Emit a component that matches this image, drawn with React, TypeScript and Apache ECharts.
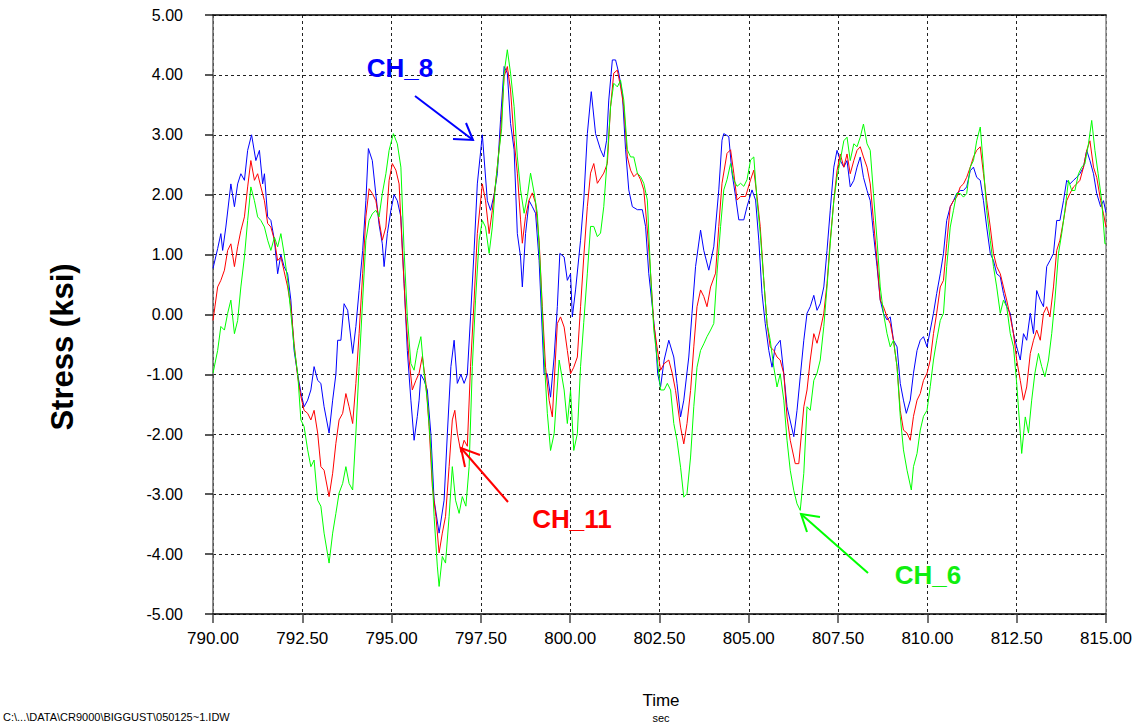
import React, { useEffect, useRef } from "react";
import * as echarts from "echarts";

// CH_8 (blue): [time s, stress ksi]
const ch8Data: [number, number][] = [
  [790.0, 0.77], [790.13, 1.1], [790.22, 1.35], [790.27, 1.07], [790.36, 1.46], [790.5, 2.18], [790.6, 1.8], [790.69, 2.18],
  [790.78, 2.35], [790.88, 2.24], [790.97, 2.74], [791.08, 3.0], [791.2, 2.57], [791.3, 2.74], [791.39, 2.18], [791.44, 2.35],
  [791.53, 1.63], [791.62, 1.57], [791.72, 1.24], [791.81, 0.68], [791.9, 1.0], [791.99, 0.8], [792.09, 0.68], [792.18, 0.24],
  [792.27, -0.6], [792.37, -1.0], [792.46, -1.3], [792.55, -1.54], [792.65, -1.43], [792.74, -1.26], [792.83, -0.87], [792.93, -1.1],
  [793.02, -1.15], [793.11, -1.54], [793.25, -1.98], [793.35, -1.43], [793.44, -1.0], [793.49, -0.43], [793.58, -0.43], [793.67, 0.18],
  [793.77, 0.07], [793.91, -0.65], [794.0, -0.2], [794.09, 0.4], [794.19, 1.07], [794.28, 1.9], [794.35, 2.77], [794.46, 2.57],
  [794.56, 2.0], [794.65, 1.5], [794.74, 1.18], [794.79, 0.8], [794.88, 1.35], [794.98, 1.74], [795.07, 2.0], [795.16, 1.9],
  [795.26, 1.63], [795.35, 0.52], [795.44, -0.6], [795.54, -1.43], [795.63, -2.1], [795.72, -1.7], [795.77, -1.43], [795.82, -1.0],
  [795.91, -1.1], [796.0, -1.26], [796.1, -2.0], [796.19, -3.1], [796.33, -3.65], [796.47, -3.1], [796.56, -2.0], [796.66, -0.87],
  [796.75, -0.43], [796.84, -1.15], [796.94, -1.0], [797.03, -1.15], [797.12, -1.0], [797.21, -0.04], [797.31, 1.07], [797.4, 2.18],
  [797.54, 3.0], [797.68, 1.9], [797.77, 1.74], [797.87, 2.0], [797.96, 2.35], [798.05, 3.25], [798.15, 4.14], [798.24, 4.03],
  [798.33, 3.19], [798.43, 2.75], [798.52, 1.35], [798.61, 0.96], [798.66, 0.46], [798.75, 1.35], [798.85, 1.9], [798.94, 1.8],
  [799.03, 1.69], [799.13, 0.9], [799.27, -0.99], [799.36, -0.99], [799.45, -1.38], [799.55, -0.71], [799.64, 0.13], [799.71, 1.02],
  [799.83, 0.96], [799.92, 0.57], [800.01, 0.68], [800.06, -0.04], [800.15, 0.41], [800.29, 1.24], [800.38, 1.91], [800.48, 3.02],
  [800.59, 3.72], [800.71, 3.02], [800.85, 2.75], [800.94, 2.63], [801.02, 2.91], [801.08, 3.58], [801.18, 4.25], [801.27, 4.25],
  [801.36, 4.03], [801.46, 3.69], [801.55, 2.75], [801.64, 2.08], [801.74, 1.8], [801.88, 1.75], [802.02, 1.75], [802.11, 1.47],
  [802.2, 0.68], [802.3, 0.13], [802.39, -0.43], [802.45, -0.99], [802.53, -1.21], [802.63, -0.76], [802.76, -0.43], [802.9, -0.71],
  [802.99, -1.15], [803.09, -1.71], [803.18, -1.43], [803.32, -0.71], [803.41, 0.02], [803.51, 0.8], [803.65, 1.41], [803.74, 1.07],
  [803.88, 0.74], [804.02, 1.13], [804.16, 2.08], [804.25, 2.91], [804.3, 3.02], [804.44, 2.97], [804.53, 2.36], [804.63, 1.97],
  [804.72, 1.58], [804.86, 1.58], [804.95, 1.8], [805.09, 2.08], [805.19, 1.91], [805.28, 1.24], [805.37, 0.35], [805.46, -0.15],
  [805.56, -0.6], [805.65, -0.88], [805.74, -0.54], [805.88, -0.43], [805.98, -0.99], [806.07, -1.54], [806.26, -2.04], [806.35, -1.6],
  [806.44, -1.04], [806.54, -0.43], [806.63, 0.02], [806.72, 0.13], [806.82, 0.32], [806.91, 0.07], [807.0, 0.18], [807.1, 0.46],
  [807.19, 1.07], [807.28, 1.74], [807.38, 2.46], [807.47, 2.74], [807.56, 2.57], [807.66, 2.46], [807.75, 2.57], [807.84, 2.13],
  [807.94, 2.24], [808.03, 2.46], [808.12, 2.63], [808.21, 2.29], [808.31, 2.07], [808.4, 1.9], [808.49, 1.35], [808.59, 0.8],
  [808.68, 0.24], [808.77, 0.02], [808.87, -0.09], [808.96, -0.04], [809.05, -0.43], [809.15, -0.54], [809.24, -1.15], [809.33, -1.43],
  [809.41, -1.65], [809.52, -1.43], [809.61, -0.98], [809.71, -0.6], [809.8, -0.43], [809.89, -0.37], [809.99, -0.54], [810.08, -0.26],
  [810.17, 0.02], [810.26, 0.35], [810.36, 0.68], [810.45, 1.02], [810.54, 1.57], [810.64, 1.8], [810.73, 1.9], [810.82, 2.02],
  [810.92, 2.07], [811.01, 2.07], [811.1, 2.13], [811.2, 2.4], [811.29, 2.46], [811.38, 2.29], [811.48, 2.24], [811.57, 1.9],
  [811.66, 1.46], [811.76, 1.02], [811.85, 0.9], [811.94, 0.68], [812.04, 0.63], [812.13, 0.35], [812.22, 0.13], [812.32, 0.02],
  [812.41, -0.32], [812.5, -0.54], [812.6, -0.76], [812.69, -0.32], [812.78, -0.43], [812.88, 0.02], [812.97, -0.32], [813.06, 0.4],
  [813.16, 0.24], [813.25, 0.13], [813.34, 0.8], [813.43, 0.9], [813.53, 1.02], [813.62, 1.57], [813.71, 1.57], [813.81, 1.9],
  [813.9, 2.24], [813.99, 2.18], [814.09, 2.24], [814.18, 2.29], [814.27, 2.35], [814.37, 2.46], [814.46, 2.74], [814.55, 2.57],
  [814.65, 2.35], [814.74, 2.02], [814.85, 1.8], [814.93, 1.9], [815.0, 1.7],
];

// CH_11 (red)
const ch11Data: [number, number][] = [
  [790.0, -0.1], [790.13, 0.46], [790.22, 0.57], [790.32, 0.74], [790.41, 1.07], [790.5, 1.18], [790.6, 0.8], [790.69, 1.13],
  [790.78, 1.4], [790.88, 1.63], [790.97, 2.13], [791.06, 2.57], [791.16, 2.24], [791.25, 2.35], [791.34, 2.13], [791.44, 1.9],
  [791.53, 1.52], [791.62, 1.46], [791.72, 1.24], [791.81, 0.9], [791.9, 0.96], [792.09, 0.46], [792.18, 0.13], [792.27, -0.48],
  [792.37, -1.04], [792.46, -1.37], [792.55, -1.6], [792.65, -1.65], [792.74, -1.76], [792.83, -1.6], [792.93, -1.98], [793.02, -2.54],
  [793.11, -2.6], [793.25, -3.04], [793.35, -2.65], [793.44, -2.15], [793.53, -1.76], [793.63, -1.65], [793.72, -1.32], [793.81, -1.54],
  [793.91, -1.82], [794.0, -1.15], [794.09, -0.32], [794.19, 0.68], [794.28, 1.63], [794.37, 2.1], [794.46, 2.02], [794.56, 1.9],
  [794.65, 1.57], [794.74, 1.24], [794.84, 1.46], [794.93, 2.24], [795.02, 2.52], [795.12, 2.41], [795.21, 2.18], [795.3, 1.07],
  [795.4, -0.04], [795.49, -0.76], [795.58, -1.26], [795.68, -1.1], [795.77, -0.98], [795.86, -0.7], [795.96, -1.15], [796.05, -1.87],
  [796.14, -2.87], [796.24, -3.37], [796.33, -3.98], [796.42, -3.65], [796.51, -3.37], [796.61, -2.54], [796.7, -1.76], [796.77, -1.6],
  [796.84, -1.98], [796.94, -2.3], [797.03, -2.1], [797.12, -2.2], [797.21, -0.87], [797.31, 0.24], [797.4, 1.35], [797.54, 2.18],
  [797.63, 1.9], [797.73, 1.35], [797.82, 1.74], [797.91, 2.18], [798.05, 3.0], [798.15, 3.97], [798.24, 4.14], [798.33, 3.75],
  [798.43, 2.91], [798.52, 2.36], [798.61, 1.58], [798.66, 1.19], [798.75, 1.64], [798.85, 1.91], [798.94, 2.03], [799.03, 1.86],
  [799.13, 1.24], [799.22, 0.13], [799.31, -0.88], [799.41, -1.43], [799.5, -1.71], [799.64, -0.15], [799.73, -0.04], [799.83, -0.21],
  [799.92, -0.6], [800.01, -0.99], [800.1, -0.88], [800.2, -0.71], [800.29, 0.13], [800.38, 0.96], [800.48, 1.8], [800.57, 2.36],
  [800.66, 2.52], [800.76, 2.19], [800.94, 2.36], [801.04, 2.52], [801.13, 3.47], [801.22, 4.03], [801.32, 4.08], [801.41, 3.8],
  [801.5, 3.47], [801.6, 2.63], [801.69, 2.41], [801.78, 2.3], [801.88, 2.36], [801.97, 2.25], [802.06, 2.08], [802.16, 1.41],
  [802.25, 0.69], [802.34, -0.15], [802.43, -0.54], [802.53, -0.93], [802.63, -0.82], [802.76, -0.76], [802.86, -0.99], [802.95, -1.27],
  [803.09, -1.88], [803.18, -2.16], [803.27, -1.82], [803.37, -1.27], [803.46, -0.54], [803.55, 0.13], [803.65, 0.41], [803.74, 0.3],
  [803.83, 0.13], [803.93, 0.46], [804.07, 0.69], [804.16, 1.47], [804.25, 2.19], [804.39, 2.69], [804.49, 2.75], [804.58, 2.36],
  [804.67, 1.91], [804.77, 1.97], [804.91, 1.97], [805.05, 2.25], [805.14, 2.41], [805.23, 1.97], [805.32, 1.47], [805.42, 0.57],
  [805.51, -0.15], [805.6, -0.54], [805.7, -0.6], [805.79, -0.71], [805.88, -0.76], [805.98, -0.99], [806.07, -1.71], [806.16, -2.1],
  [806.3, -2.49], [806.4, -2.49], [806.54, -1.54], [806.63, -1.26], [806.72, -0.76], [806.82, -0.32], [806.91, -0.48], [807.0, -0.26],
  [807.1, 0.02], [807.19, 0.52], [807.28, 1.24], [807.38, 1.9], [807.47, 2.4], [807.56, 2.68], [807.66, 2.46], [807.75, 2.68],
  [807.84, 2.35], [807.94, 2.57], [808.03, 2.74], [808.12, 2.8], [808.21, 2.63], [808.31, 2.46], [808.4, 2.18], [808.49, 1.57],
  [808.59, 0.9], [808.68, 0.24], [808.77, 0.13], [808.87, -0.04], [808.96, -0.15], [809.05, -0.43], [809.15, -0.87], [809.24, -1.6],
  [809.33, -1.93], [809.43, -1.98], [809.52, -2.1], [809.61, -1.7], [809.71, -1.43], [809.8, -1.32], [809.89, -1.1], [809.99, -0.98],
  [810.08, -0.76], [810.17, -0.32], [810.26, 0.02], [810.36, 0.46], [810.45, 0.57], [810.54, 1.18], [810.64, 1.8], [810.73, 1.9],
  [810.82, 1.96], [810.92, 2.13], [811.01, 2.18], [811.1, 2.29], [811.2, 2.46], [811.29, 2.63], [811.38, 2.74], [811.48, 2.8],
  [811.57, 2.35], [811.66, 1.9], [811.76, 1.46], [811.85, 1.02], [811.94, 0.8], [812.04, 0.68], [812.13, 0.46], [812.22, 0.24],
  [812.32, -0.04], [812.41, -0.32], [812.5, -0.76], [812.6, -1.1], [812.69, -1.43], [812.78, -1.21], [812.88, -0.65], [812.97, -0.43],
  [813.06, -0.26], [813.16, -0.43], [813.25, 0.02], [813.34, 0.13], [813.43, -0.04], [813.53, 0.46], [813.62, 1.07], [813.71, 1.24],
  [813.81, 1.57], [813.9, 1.9], [813.99, 2.02], [814.09, 2.13], [814.18, 2.18], [814.27, 2.24], [814.37, 2.46], [814.46, 2.74],
  [814.55, 2.9], [814.65, 2.46], [814.74, 2.29], [814.85, 1.9], [814.93, 1.68], [815.0, 1.46],
];

// CH_6 (green)
const ch6Data: [number, number][] = [
  [790.0, -0.98], [790.13, -0.6], [790.22, -0.2], [790.32, -0.26], [790.41, 0.02], [790.5, 0.24], [790.6, -0.32], [790.69, -0.1],
  [790.78, 0.46], [790.88, 0.96], [790.97, 1.57], [791.06, 2.13], [791.16, 1.9], [791.25, 1.63], [791.34, 1.57], [791.44, 1.46],
  [791.53, 1.24], [791.62, 1.07], [791.72, 1.29], [791.81, 1.13], [791.9, 1.35], [791.99, 1.02], [792.09, 0.57], [792.18, 0.02],
  [792.27, -0.54], [792.37, -0.98], [792.46, -1.76], [792.55, -1.87], [792.65, -2.26], [792.74, -2.54], [792.83, -2.43], [792.93, -3.1],
  [793.02, -3.2], [793.11, -3.65], [793.25, -4.15], [793.35, -3.65], [793.44, -3.32], [793.53, -2.98], [793.63, -2.82], [793.72, -2.54],
  [793.81, -2.82], [793.91, -2.93], [794.0, -1.98], [794.09, -0.87], [794.19, 0.24], [794.28, 1.24], [794.37, 1.57], [794.46, 1.68],
  [794.56, 1.74], [794.65, 1.63], [794.74, 2.02], [794.84, 2.35], [794.93, 2.74], [795.05, 3.02], [795.16, 2.85], [795.26, 2.46],
  [795.35, 1.07], [795.44, -0.04], [795.54, -0.82], [795.63, -0.93], [795.72, -0.6], [795.82, -0.37], [795.91, -0.98], [796.0, -1.43],
  [796.1, -2.26], [796.19, -3.37], [796.28, -4.2], [796.33, -4.54], [796.42, -4.04], [796.51, -4.15], [796.61, -3.37], [796.7, -2.54],
  [796.79, -3.1], [796.89, -3.32], [796.98, -3.04], [797.08, -3.2], [797.17, -2.54], [797.26, -0.87], [797.35, 0.24], [797.45, 1.24],
  [797.54, 1.57], [797.63, 1.46], [797.73, 1.02], [797.82, 1.46], [797.91, 2.18], [798.01, 2.74], [798.08, 3.1], [798.15, 4.03],
  [798.24, 4.42], [798.33, 4.03], [798.43, 3.47], [798.52, 2.63], [798.61, 2.08], [798.71, 1.69], [798.8, 1.97], [798.89, 2.36],
  [798.99, 2.03], [799.08, 1.69], [799.17, 0.69], [799.27, -0.71], [799.36, -1.65], [799.45, -2.27], [799.55, -1.99], [799.69, -0.76],
  [799.83, -1.26], [799.92, -1.82], [800.01, -1.26], [800.1, -2.27], [800.2, -1.99], [800.29, -0.87], [800.38, -0.13], [800.48, 0.69],
  [800.57, 1.47], [800.66, 1.47], [800.76, 1.3], [800.85, 1.36], [800.94, 1.8], [801.04, 2.63], [801.13, 3.47], [801.22, 3.86],
  [801.32, 3.8], [801.41, 3.91], [801.5, 3.58], [801.6, 2.75], [801.69, 2.63], [801.78, 2.63], [801.88, 2.36], [801.97, 2.3],
  [802.06, 2.19], [802.16, 1.91], [802.25, 0.69], [802.34, -0.26], [802.43, -0.71], [802.53, -1.26], [802.63, -1.26], [802.72, -1.15],
  [802.81, -1.26], [802.9, -1.82], [802.99, -2.1], [803.09, -2.55], [803.18, -3.05], [803.27, -2.99], [803.37, -2.38], [803.46, -1.54],
  [803.55, -0.88], [803.65, -0.6], [803.74, -0.49], [803.83, -0.37], [803.93, -0.26], [804.02, -0.15], [804.11, 0.69], [804.21, 1.47],
  [804.3, 2.08], [804.39, 2.25], [804.49, 2.52], [804.58, 2.25], [804.67, 2.14], [804.77, 2.19], [804.86, 2.14], [804.95, 2.25],
  [805.05, 2.58], [805.14, 2.63], [805.23, 1.91], [805.32, 1.36], [805.42, 0.57], [805.51, -0.15], [805.6, -0.43], [805.7, -0.88],
  [805.79, -1.21], [805.88, -0.99], [805.98, -1.43], [806.07, -2.1], [806.16, -2.6], [806.26, -2.94], [806.35, -3.16], [806.44, -3.27],
  [806.54, -2.65], [806.63, -1.54], [806.72, -1.6], [806.82, -1.1], [806.91, -0.98], [807.0, -0.76], [807.1, -0.2], [807.19, 0.46],
  [807.28, 1.18], [807.38, 1.9], [807.47, 2.29], [807.56, 2.57], [807.66, 2.9], [807.75, 2.96], [807.84, 2.57], [807.94, 2.85],
  [808.03, 2.8], [808.12, 2.96], [808.21, 3.18], [808.31, 2.85], [808.4, 2.74], [808.49, 2.02], [808.59, 1.24], [808.68, 0.46],
  [808.77, 0.02], [808.87, -0.32], [808.96, -0.54], [809.05, -0.43], [809.15, -0.87], [809.24, -1.7], [809.33, -2.26], [809.43, -2.6],
  [809.55, -2.93], [809.61, -2.54], [809.71, -2.32], [809.8, -1.93], [809.89, -1.7], [809.99, -1.6], [810.08, -1.2], [810.17, -0.76],
  [810.26, -0.43], [810.36, -0.1], [810.45, 0.02], [810.54, 0.8], [810.64, 1.46], [810.73, 1.74], [810.82, 2.02], [810.92, 2.02],
  [811.01, 1.96], [811.1, 2.02], [811.2, 2.46], [811.29, 2.57], [811.38, 2.9], [811.48, 3.13], [811.57, 2.46], [811.66, 1.74],
  [811.76, 1.24], [811.85, 0.8], [811.94, 0.46], [812.04, 0.02], [812.13, 0.24], [812.22, 0.13], [812.32, -0.32], [812.41, -0.54],
  [812.5, -1.15], [812.6, -1.98], [812.64, -2.32], [812.74, -1.71], [812.83, -1.98], [812.92, -1.43], [813.01, -0.98], [813.11, -0.65],
  [813.2, -0.87], [813.29, -1.04], [813.39, -0.76], [813.48, -0.32], [813.57, 0.24], [813.67, 1.02], [813.76, 1.35], [813.85, 1.74],
  [813.95, 2.24], [814.04, 2.07], [814.13, 2.07], [814.23, 2.35], [814.32, 2.46], [814.41, 2.52], [814.51, 2.85], [814.6, 3.24],
  [814.69, 2.74], [814.78, 2.35], [814.88, 1.9], [814.97, 1.18], [815.0, 1.18],
];

const xMin = 790;
const xMax = 815;
const xStep = 2.5;
const yMin = -5;
const yMax = 5;
const yStep = 1;

const FONT = "'Liberation Sans', Arial, sans-serif";
const BLUE = "#0000ff";
const RED = "#ff0000";
const GREEN = "#00ff00";

export default function App() {
  const ref = useRef<HTMLDivElement | null>(null);

  useEffect(() => {
    if (!ref.current) return;
    const chart = echarts.init(ref.current, undefined, { renderer: "svg" });
    const dashed = { show: true, lineStyle: { color: "#222", type: [3, 3] as any, width: 1 } };
    const arrow = (x1: number, y1: number, x2: number, y2: number, h1: number[], h2: number[], color: string) => [
      { type: "line", shape: { x1, y1, x2, y2 }, style: { stroke: color, lineWidth: 2 }, z: 100 },
      { type: "polyline", shape: { points: [h1, [x2, y2], h2] }, style: { stroke: color, lineWidth: 2, fill: "none" }, z: 100 },
    ];
    const option: any = {
      animation: false,
      backgroundColor: "#ffffff",
      grid: { left: 213, right: 32, top: 15, bottom: 111, containLabel: false },
      xAxis: [
        {
          type: "value",
          min: xMin,
          max: xMax,
          interval: xStep,
          position: "bottom",
          axisLine: { show: true, onZero: false, lineStyle: { color: "#000", width: 1.5 } },
          axisTick: { show: true, length: 9, lineStyle: { color: "#444", width: 1.5 } },
          axisLabel: {
            color: "#000",
            fontFamily: FONT,
            fontSize: 17,
            margin: 16,
            formatter: (v: number) => v.toFixed(2),
          },
          splitLine: dashed,
        },
        {
          type: "value",
          min: xMin,
          max: xMax,
          position: "top",
          axisLine: { show: true, onZero: false, lineStyle: { color: "#000", width: 1.5 } },
          axisTick: { show: false },
          axisLabel: { show: false },
          splitLine: { show: false },
        },
      ],
      yAxis: [
        {
          type: "value",
          min: yMin,
          max: yMax,
          interval: yStep,
          position: "left",
          axisLine: { show: true, onZero: false, lineStyle: { color: "#666", width: 1.5 } },
          axisTick: { show: true, length: 8, lineStyle: { color: "#222", width: 1.5 } },
          axisLabel: {
            color: "#000",
            fontFamily: FONT,
            fontSize: 16,
            margin: 30,
            formatter: (v: number) => v.toFixed(2),
          },
          splitLine: dashed,
        },
        {
          type: "value",
          min: yMin,
          max: yMax,
          position: "right",
          axisLine: { show: true, onZero: false, lineStyle: { color: "#888", width: 1.5 } },
          axisTick: { show: false },
          axisLabel: { show: false },
          splitLine: { show: false },
        },
      ],
      series: [
        { name: "CH_8", type: "line", data: ch8Data, showSymbol: false, symbol: "none", lineStyle: { color: BLUE, width: 1 }, z: 3 },
        { name: "CH_11", type: "line", data: ch11Data, showSymbol: false, symbol: "none", lineStyle: { color: RED, width: 1 }, z: 4 },
        { name: "CH_6", type: "line", data: ch6Data, showSymbol: false, symbol: "none", lineStyle: { color: GREEN, width: 1 }, z: 5 },
      ],
      graphic: [
        {
          type: "text",
          x: 62,
          y: 347,
          rotation: Math.PI / 2,
          style: { text: "Stress (ksi)", font: `bold 31px ${FONT}`, fill: "#000", align: "center", verticalAlign: "middle" },
        },
        { type: "text", x: 661, y: 700, style: { text: "Time", font: `17px ${FONT}`, fill: "#000", align: "center", verticalAlign: "middle" } },
        { type: "text", x: 661, y: 718, style: { text: "sec", font: `11px ${FONT}`, fill: "#000", align: "center", verticalAlign: "middle" } },
        {
          type: "text",
          x: 3,
          y: 717,
          style: { text: "C:\\...\\DATA\\CR9000\\BIGGUST\\050125~1.IDW", font: `11px ${FONT}`, fill: "#000", align: "left", verticalAlign: "middle" },
        },
        { type: "text", x: 400, y: 68, z: 100, style: { text: "CH_8", font: `bold 26px ${FONT}`, fill: BLUE, align: "center", verticalAlign: "middle" } },
        { type: "text", x: 572, y: 519, z: 100, style: { text: "CH_11", font: `bold 26px ${FONT}`, fill: RED, align: "center", verticalAlign: "middle" } },
        { type: "text", x: 928, y: 575, z: 100, style: { text: "CH_6", font: `bold 26px ${FONT}`, fill: "#10ee10", align: "center", verticalAlign: "middle" } },
        ...arrow(415, 96, 473, 140, [466, 123], [453, 139], BLUE),
        ...arrow(508, 502, 461, 448, [480, 455], [465, 467], RED),
        ...arrow(868, 573, 801, 514, [820, 517], [807, 532], GREEN),
      ],
    };
    chart.setOption(option);
    return () => chart.dispose();
  }, []);

  return (
    <div
      ref={ref}
      style={{ position: "absolute", left: 0, top: 0, width: 1138, height: 725, background: "#fff" }}
    />
  );
}
